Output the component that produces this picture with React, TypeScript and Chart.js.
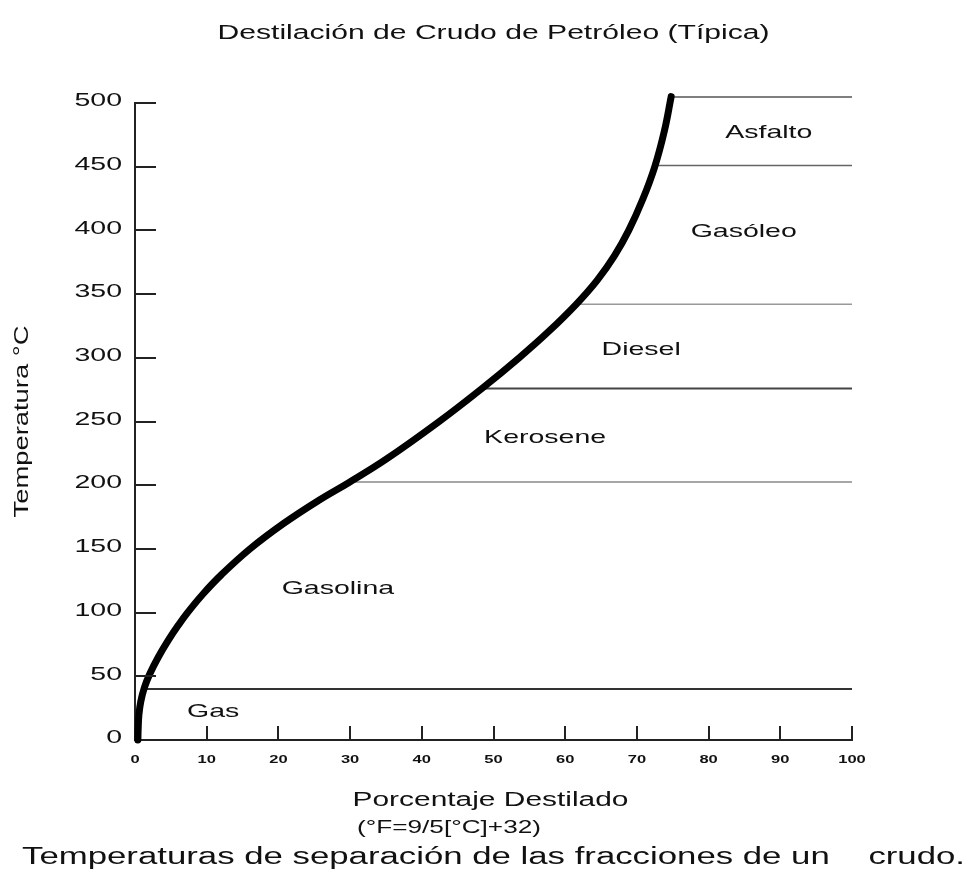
import React, { useEffect, useRef } from 'react';
import { Chart, registerables } from 'chart.js';

Chart.register(...registerables);

// ---- texts ----
const chartTitle = 'Destilación de Crudo de Petróleo (Típica)';
const yAxisTitle = 'Temperatura °C';
const xAxisTitle = 'Porcentaje Destilado';
const xAxisSubtitle = '(°F=9/5[°C]+32)';
const captionText = 'Temperaturas de separación de las fracciones de un    crudo.';

// ---- distillation curve ----
const percentDistilled = [0.4, 0.45, 0.55, 0.8, 1.3, 2.07, 3.24, 4.61, 6.03, 7.33, 9.55, 12.1, 16.04, 20.74, 25.6, 29.8, 34.93, 42.43, 48.41, 53.57, 57.57, 61.53, 64.48, 66.86, 68.86, 70.86, 72.49, 73.83, 74.78];
const temperatureC = [0, 10, 20, 30, 41, 52, 65, 78, 90, 100, 115, 130, 150, 170, 188, 202, 220, 250, 276, 300, 320, 342, 361, 380, 400, 425, 450, 478, 505];

// ---- cut (boundary) lines ----
const cutTemps = [40, 202.5, 276, 342, 451, 504.7];
const cutStartPct = [1.3, 30.0, 48.6, 61.6, 72.6, 74.8];
const cutEndPct = [100, 100, 100, 100, 100, 100];

// ---- fraction labels ----
const fractionNames = ['Gas', 'Gasolina', 'Kerosene', 'Diesel', 'Gasóleo', 'Asfalto'];
const fractionLabelPct = [10.9, 28.3, 57.2, 70.6, 84.9, 88.4];
const fractionLabelTemp = [22, 119, 237, 306, 399, 477];

// ---- ticks ----
const yTickValues = [0, 50, 100, 150, 200, 250, 300, 350, 400, 450, 500];
const xTickValues = [0, 10, 20, 30, 40, 50, 60, 70, 80, 90, 100];

// styles (kept apart from data)
const cutColors = ['#333', '#8a8a8a', '#444', '#999', '#666', '#555'];
const cutWidths = [2, 1.5, 2, 1.5, 1.5, 1.5];
const FONT = '"Liberation Sans", Arial, sans-serif';
const SX = 1.5;
const TEXT = '#111';

function drawText(ctx: CanvasRenderingContext2D, text: string, x: number, y: number, font: string, align: CanvasTextAlign, sx: number) {
  ctx.save();
  ctx.font = font;
  ctx.fillStyle = TEXT;
  ctx.textAlign = align;
  ctx.textBaseline = 'middle';
  ctx.translate(x, y);
  ctx.scale(sx, 1);
  ctx.fillText(text, 0, 0);
  ctx.restore();
}

function fitText(ctx: CanvasRenderingContext2D, text: string, x: number, y: number, font: string, width: number, align: CanvasTextAlign) {
  ctx.save();
  ctx.font = font;
  const w = ctx.measureText(text).width;
  ctx.restore();
  drawText(ctx, text, x, y, font, align, width / w);
}

const decorPlugin = {
  id: 'decor',
  afterDraw(chart: any) {
    const ctx: CanvasRenderingContext2D = chart.ctx;
    const xs = chart.scales.x;
    const ys = chart.scales.y;
    const area = chart.chartArea;

    // inward tick marks
    ctx.save();
    ctx.strokeStyle = '#222';
    ctx.lineWidth = 2;
    ctx.beginPath();
    ys.ticks.forEach((t: any) => {
      if (t.value === 0) return;
      const py = Math.round(ys.getPixelForValue(t.value));
      ctx.moveTo(area.left, py);
      ctx.lineTo(area.left + 21, py);
    });
    xs.ticks.forEach((t: any) => {
      if (t.value === 0) return;
      const px = Math.round(xs.getPixelForValue(t.value));
      ctx.moveTo(px, area.bottom);
      ctx.lineTo(px, area.bottom - 14);
    });
    ctx.stroke();
    ctx.restore();

    // y tick labels
    ys.ticks.forEach((t: any) => {
      drawText(ctx, String(t.value), area.left - 13, ys.getPixelForValue(t.value) - 2, `19px ${FONT}`, 'right', SX);
    });
    // x tick labels
    xs.ticks.forEach((t: any) => {
      drawText(ctx, String(t.value), xs.getPixelForValue(t.value), area.bottom + 20, `bold 11px ${FONT}`, 'center', SX);
    });

    // fraction labels
    fractionNames.forEach((name, i) => {
      drawText(ctx, name, xs.getPixelForValue(fractionLabelPct[i]), ys.getPixelForValue(fractionLabelTemp[i]), `19px ${FONT}`, 'center', SX);
    });

    const cx = (area.left + area.right) / 2;
    // title
    fitText(ctx, chartTitle, cx, 33, `20px ${FONT}`, 552, 'center');
    // x axis titles
    fitText(ctx, xAxisTitle, cx - 3, area.bottom + 60, `20px ${FONT}`, 276, 'center');
    fitText(ctx, xAxisSubtitle, 357, area.bottom + 88, `18px ${FONT}`, 184, 'left');
    // caption
    fitText(ctx, captionText, 22, 858, `23px ${FONT}`, 943, 'left');

    // y axis title (rotated)
    ctx.save();
    ctx.font = `20px ${FONT}`;
    const w = ctx.measureText(yAxisTitle).width;
    ctx.translate(22, (area.top + area.bottom) / 2);
    ctx.rotate(-Math.PI / 2);
    ctx.scale(192 / w, 1);
    ctx.fillStyle = TEXT;
    ctx.textAlign = 'center';
    ctx.textBaseline = 'middle';
    ctx.fillText(yAxisTitle, 0, 0);
    ctx.restore();
  },
};

export default function App() {
  const canvasRef = useRef<HTMLCanvasElement | null>(null);

  useEffect(() => {
    if (!canvasRef.current) return;
    const curve = percentDistilled.map((p, i) => ({ x: p, y: temperatureC[i] }));
    const cutSets = cutTemps.map((t, i) => ({
      label: 'cut' + i,
      data: [{ x: cutStartPct[i], y: t }, { x: cutEndPct[i], y: t }],
      borderColor: cutColors[i],
      borderWidth: cutWidths[i],
      pointRadius: 0,
      tension: 0,
      clip: false as any,
      order: 2,
    }));

    const chart = new Chart(canvasRef.current, {
      type: 'line',
      data: {
        datasets: [
          {
            label: 'curve',
            data: curve,
            borderColor: '#000',
            borderWidth: 7,
            pointRadius: 0,
            tension: 0.4,
            borderCapStyle: 'round',
            borderJoinStyle: 'round',
            clip: false as any,
            order: 1,
          },
          ...cutSets,
        ] as any,
      },
      options: {
        animation: false,
        responsive: false,
        events: [],
        layout: { padding: { top: 103, right: 128, left: 0, bottom: 0 } },
        plugins: {
          legend: { display: false },
          title: { display: false },
          tooltip: { enabled: false },
        },
        scales: {
          x: {
            type: 'linear',
            min: 0,
            max: 100,
            grid: { display: false },
            border: { display: true, color: '#222', width: 2 },
            ticks: { display: false },
            afterBuildTicks: (s: any) => { s.ticks = xTickValues.map((v) => ({ value: v })); },
            afterFit: (s: any) => { s.height = 141; },
          },
          y: {
            type: 'linear',
            min: 0,
            max: 500,
            grid: { display: false },
            border: { display: true, color: '#222', width: 2 },
            ticks: { display: false },
            afterBuildTicks: (s: any) => { s.ticks = yTickValues.map((v) => ({ value: v })); },
            afterFit: (s: any) => { s.width = 135; },
          },
        },
      } as any,
      plugins: [decorPlugin],
    });
    return () => chart.destroy();
  }, []);

  return (
    <div style={{ position: 'absolute', left: 0, top: 0, width: 980, height: 881, background: '#fff' }}>
      <canvas ref={canvasRef} width={980} height={881} style={{ display: 'block' }} />
    </div>
  );
}
